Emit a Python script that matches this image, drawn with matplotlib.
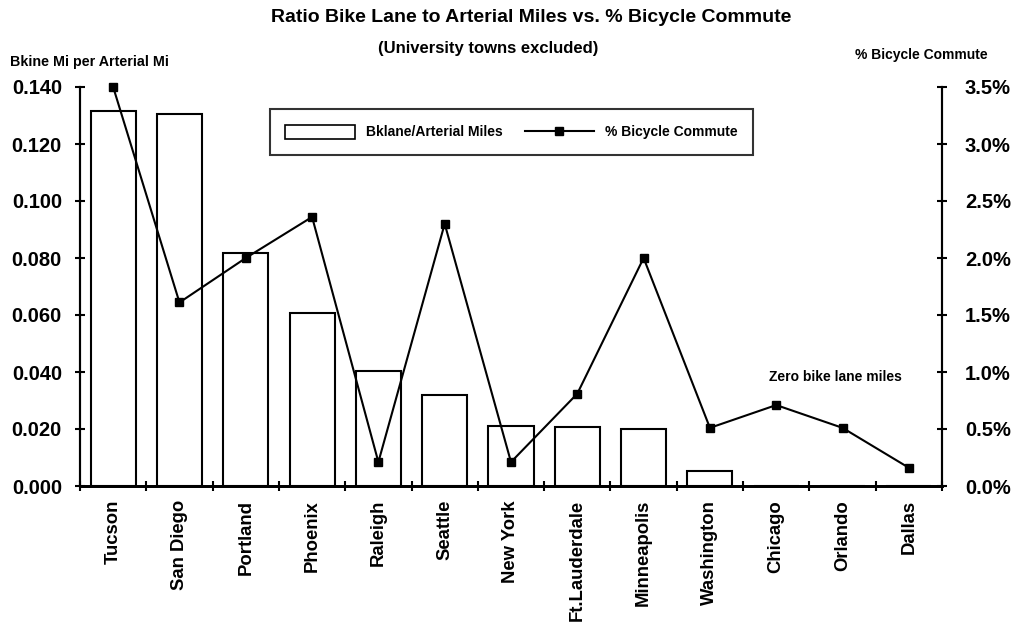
import matplotlib
matplotlib.use("Agg")
import matplotlib.pyplot as plt
from matplotlib.lines import Line2D
from matplotlib.patches import Patch
import numpy as np

plt.rcParams['font.family'] = ['Liberation Sans', 'DejaVu Sans']
plt.rcParams['font.weight'] = 'bold'

cities = ["Tucson", "San Diego", "Portland", "Phoenix", "Raleigh", "Seattle",
          "New York", "Ft.Lauderdale", "Minneapolis", "Washington", "Chicago",
          "Orlando", "Dallas"]
bike_ratio = [0.1315, 0.1305, 0.0817, 0.0606, 0.0404, 0.0318, 0.0211,
              0.0207, 0.0200, 0.0052, 0.0, 0.0, 0.0]
commute_pct = [3.5, 1.61, 2.0, 2.36, 0.21, 2.30, 0.21, 0.81, 2.0, 0.51,
               0.71, 0.51, 0.16]
left_ticks = [0.0, 0.02, 0.04, 0.06, 0.08, 0.10, 0.12, 0.14]
right_ticks = [0.0, 0.5, 1.0, 1.5, 2.0, 2.5, 3.0, 3.5]

W, H = 1012, 632
fig = plt.figure(figsize=(W / 100, H / 100), dpi=100)
fig.patch.set_facecolor("white")
ax = fig.add_axes([80 / W, 1 - 486 / H, (942 - 80) / W, (486 - 87) / H])
ax2 = ax.twinx()
ax2.set_zorder(ax.get_zorder() + 1)
ax2.patch.set_visible(False)

x = np.arange(len(cities))
ax.bar(x, bike_ratio, width=0.68, facecolor="white", edgecolor="black",
       linewidth=1.5, zorder=2)
ax.set_xlim(-0.5, len(cities) - 0.5)
ax.set_ylim(0, 0.14)
ax.set_yticks(left_ticks)
ax.set_yticklabels([f"{v:.3f}" for v in left_ticks], fontsize=14.5, fontweight="bold")
ax.set_xticks(x)
ax.set_xticklabels(cities, rotation=90, fontsize=13.3, fontweight="bold")
ax.set_xticks(np.arange(-0.5, len(cities), 1.0), minor=True)
ax.tick_params(axis="x", which="major", length=0, pad=10)
ax.tick_params(axis="x", which="minor", length=7, width=1.5, direction="inout")
ax.tick_params(axis="y", length=7, width=1.5, direction="inout", pad=9.5)

ax2.plot(x, commute_pct, color="black", linewidth=1.5, marker="s",
         markersize=6, markerfacecolor="black", clip_on=False)
ax2.set_ylim(0, 3.5)
ax2.set_yticks(right_ticks)
ax2.set_yticklabels([f"{v:.1f}%" for v in right_ticks], fontsize=14.5, fontweight="bold")
ax2.tick_params(axis="y", length=7, width=1.5, direction="inout", pad=13)

for a in (ax, ax2):
    a.spines["top"].set_visible(False)
    a.spines["left"].set_linewidth(1.5)
    a.spines["right"].set_linewidth(1.5)
    a.spines["bottom"].set_linewidth(2)

# Legend
handles = [Patch(facecolor="white", edgecolor="black", linewidth=1.2),
           Line2D([0], [0], color="black", linewidth=1.5, marker="s", markersize=6)]
leg = ax2.legend(handles, ["Bklane/Arterial Miles", "% Bicycle Commute"],
                 ncol=2, loc="center", bbox_to_anchor=((270 + 753) / 2 / W, 1 - 132 / H),
                 bbox_transform=fig.transFigure, frameon=True, fancybox=False,
                 edgecolor="black", handlelength=5.0, handleheight=1.2,
                 columnspacing=1.6, borderpad=1.1, prop={"size": 10, "weight": "bold"})
leg.get_frame().set_linewidth(1.5)

# Texts
fig.text(531 / W, 1 - 17 / H, "Ratio Bike Lane to Arterial Miles vs. % Bicycle Commute",
         ha="center", va="center", fontsize=14, fontweight="bold")
fig.text(488 / W, 1 - 48 / H, "(University towns excluded)",
         ha="center", va="center", fontsize=12, fontweight="bold")
fig.text(10 / W, 1 - 62 / H, "Bkine Mi per Arterial Mi",
         ha="left", va="center", fontsize=10.3, fontweight="bold")
fig.text(988 / W, 1 - 55 / H, "% Bicycle Commute",
         ha="right", va="center", fontsize=10, fontweight="bold")
ax2.text(10.89, 0.956, "Zero bike lane miles", ha="center", va="center",
         fontsize=10, fontweight="bold")

fig.savefig("out.png", dpi=100, facecolor="white")
